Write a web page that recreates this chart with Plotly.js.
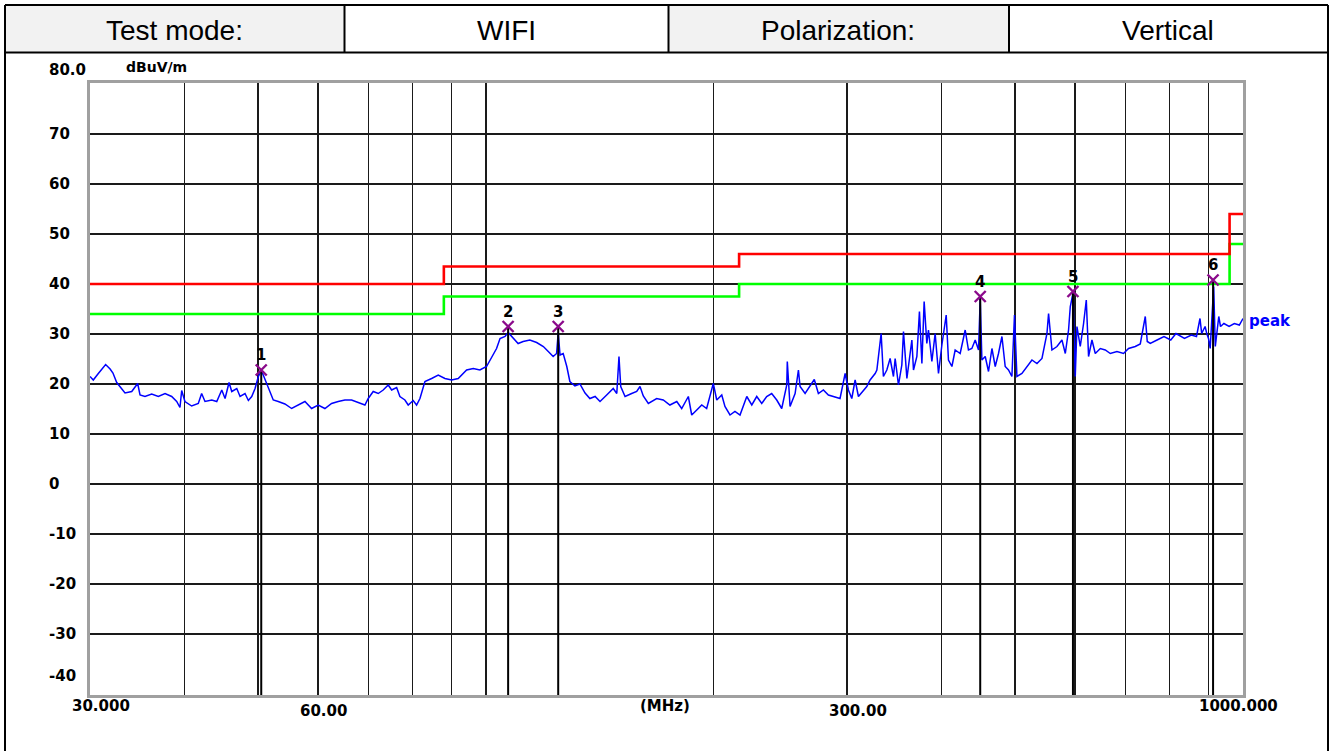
<!DOCTYPE html>
<html>
<head>
<meta charset="utf-8">
<script src="https://cdn.plot.ly/plotly-3.0.1.min.js"></script>
<style>
  html, body { margin: 0; padding: 0; background: #fff; }
  #chart { width: 1333px; height: 751px; }
</style>
</head>
<body>
<div id="chart"></div>
<script>
// ---------------- DATA ----------------
const headerLabels = ['Test mode:', 'WIFI', 'Polarization:', 'Vertical'];

const freqMHz = [
  30.0, 30.30, 30.77, 31.46, 31.89, 32.17, 32.54, 33.04, 33.37, 34.06,
  34.68, 34.93, 35.46, 36.19, 36.93, 37.69, 38.46, 39.05, 39.44, 39.65,
  40.04, 40.87, 41.70, 42.13, 42.56, 43.45, 44.11, 44.79, 45.24, 45.79,
  46.17, 46.88, 47.35, 48.07, 48.56, 49.06, 49.56, 50.06, 50.5, 50.81,
  51.34, 51.85, 52.38, 53.18, 54.27, 55.39, 56.51, 57.68, 58.86, 60.05,
  61.29, 62.55, 63.82, 65.13, 66.47, 67.82, 69.22, 69.92, 70.99, 72.08,
  73.18, 74.31, 75.08, 76.23, 76.99, 78.17, 78.96, 80.17, 81.0, 81.83,
  83.08, 84.79, 86.51, 88.29, 90.11, 91.93, 94.31, 96.22, 98.2, 100.2,
  101.8, 103.3, 104.4, 106.0, 107.0, 108.7, 110.3, 112.0, 114.3, 116.7,
  119.1, 120.9, 122.7, 124.0, 124.6, 125.3, 126.5, 127.9, 129.1, 131.1,
  133.1, 135.2, 137.2, 139.4, 141.5, 144.4, 147.3, 148.9, 149.9, 150.7,
  152.7, 155.8, 158.2, 159.8, 161.4, 163.9, 168.1, 171.5, 175.0, 178.7,
  181.4, 185.1, 187.0, 189.9, 192.8, 195.7, 198.7, 199.7, 201.8, 204.9,
  206.9, 210.1, 213.3, 216.6, 221.1, 224.5, 227.9, 231.4, 234.9, 238.5,
  242.2, 245.9, 249.7, 250.1, 252.2, 256.1, 258.7, 260.0, 264.0, 268.0,
  271.5, 274.9, 279.1, 283.4, 287.7, 293.6, 298.2, 301.2, 304.3, 307.4,
  310.5, 315.2, 318.5, 321.7, 326.7, 328.4, 330.7, 332.7, 335.0, 338.5,
  341.9, 345.4, 347.2, 350.7, 354.3, 356.1, 359.8, 363.4, 365.3, 367.1,
  370.9, 373.8, 376.6, 379.2, 382.3, 384.2, 388.2, 392.1, 396.1, 400.2,
  405.5, 408.3, 412.6, 416.7, 423.1, 429.6, 433.9, 438.4, 442.9, 447.4,
  449.7, 452.0, 456.6, 461.2, 466.0, 470.7, 475.4, 480.4, 485.2, 490.1,
  495.2, 499.1, 502.8, 510.5, 518.3, 526.3, 534.4, 542.6, 550.9, 553.6,
  559.3, 567.9, 576.6, 582.5, 588.3, 591.4, 596.2, 600.4, 603.5, 609.6,
  615.8, 620.9, 625.2, 631.7, 638.1, 647.9, 657.8, 667.9, 681.6, 695.4,
  706.1, 720.6, 731.7, 742.9, 747.4, 754.3, 770.0, 786.4, 802.8, 815.6,
  837.0, 854.5, 868.1, 877.4, 881.9, 891.1, 895.7, 900.4, 905.0, 909.7,
  914.7, 919.2, 929.0, 933.9, 943.6, 958.6, 974.0, 988.9, 1000
];

const peakLevel = [
  21.5, 20.8, 22.1, 23.9, 23.0, 22.2, 20.3, 19.1, 18.2, 18.5,
  20.1, 17.8, 17.5, 18.0, 17.5, 18.1, 17.5, 16.5, 15.3, 18.7,
  16.5, 15.6, 16.1, 18.1, 16.5, 16.8, 16.5, 18.8, 17.1, 20.3,
  18.5, 19.1, 17.5, 18.1, 16.7, 17.5, 19.1, 21.5, 22.6, 21.8,
  20.1, 18.8, 16.8, 16.5, 16.0, 15.1, 15.8, 16.5, 15.1, 15.8,
  15.1, 16.1, 16.5, 16.8, 16.8, 16.3, 15.8, 17.1, 18.5, 18.1,
  18.8, 19.8, 18.8, 19.3, 17.5, 16.8, 15.8, 16.7, 15.8, 17.1,
  20.5, 21.1, 21.8, 21.1, 20.8, 21.1, 22.8, 23.1, 22.8, 23.5,
  25.5, 27.1, 29.1, 29.5, 30.3, 29.1, 28.1, 28.5, 28.8, 28.3,
  27.5, 26.5, 25.5, 26.1, 30.3, 25.8, 26.1, 23.5, 20.5, 19.6,
  20.0, 18.2, 17.1, 17.5, 16.5, 17.8, 19.1, 18.1, 25.5, 19.5,
  17.5, 18.1, 18.5, 19.5, 17.6, 16.1, 17.1, 16.8, 15.8, 16.5,
  15.1, 17.5, 13.8, 14.8, 15.8, 15.1, 18.8, 20.1, 16.8, 17.8,
  15.5, 13.8, 14.5, 13.8, 17.5, 15.8, 17.5, 16.1, 17.5, 18.1,
  16.8, 15.1, 19.8, 24.5, 15.5, 18.1, 22.8, 19.5, 18.1, 19.5,
  20.9, 18.1, 18.8, 17.8, 17.5, 17.1, 22.1, 18.8, 17.1, 20.8,
  17.5, 18.8, 19.5, 20.8, 22.1, 22.8, 27.1, 30.1, 21.5, 22.8,
  25.1, 21.5, 25.1, 19.8, 23.8, 30.5, 21.1, 26.5, 28.8, 22.8,
  25.5, 34.5, 24.1, 36.5, 28.1, 30.8, 24.5, 30.1, 22.1, 27.8,
  33.8, 24.8, 23.5, 26.8, 26.1, 30.8, 26.8, 27.1, 28.8, 26.8,
  37.0, 24.8, 25.5, 22.5, 27.1, 23.5, 26.1, 29.5, 23.5, 22.8,
  21.5, 33.8, 21.5, 22.1, 23.5, 24.8, 24.1, 25.1, 30.1, 34.1,
  26.8, 27.5, 28.8, 26.1, 30.8, 35.5, 38.1, 21.5, 31.5, 27.5,
  32.1, 36.8, 25.5, 28.8, 26.1, 27.1, 26.8, 26.1, 26.5, 26.1,
  27.1, 27.5, 28.0, 33.5, 28.5, 28.1, 28.8, 29.5, 28.8, 30.1,
  29.1, 29.8, 29.5, 33.1, 30.1, 31.5, 30.1, 29.1, 27.1, 33.5,
  39.5, 27.5, 33.5, 31.5, 32.1, 31.5, 32.1, 31.8, 33.1
];

const limitFreq  = [30, 88, 88, 216, 216, 960, 960, 1000];
const limitLevel = [40, 40, 43.5, 43.5, 46, 46, 54, 54];
const marginLevel = [34, 34, 37.5, 37.5, 40, 40, 48, 48];

const markerFreq  = [50.5, 107.0, 124.6, 449.7, 596.2, 913.0];
const markerLevel = [22.8, 31.5, 31.5, 37.5, 38.5, 40.8];
const markerLabel = ['1', '2', '3', '4', '5', '6'];

const xGridFreq = [40, 50, 60, 70, 80, 90, 100, 200, 300, 400, 500, 600, 700, 800, 900];
const yGridVals = [70, 60, 50, 40, 30, 20, 10, 0, -10, -20, -30];
const yLabelVals = [80, 70, 60, 50, 40, 30, 20, 10, 0, -10, -20, -30, -40];
const yLabelText = ['80.0', '70', '60', '50', '40', '30', '20', '10', '0', '-10', '-20', '-30', '-40'];
const xLabelVals = [30, 60, 300, 1000];
const xLabelText = ['30.000', '60.00', '300.00', '1000.000'];
const yRange = [-42.2, 80.2];

// ---------------- LAYOUT HELPERS (pixel -> paper) ----------------
const W = 1333, H = 751, ML = 90, MR = 90, MT = 83, MB = 56;
const PW = W - ML - MR, PH = H - MT - MB;
const PX = p => (p - ML) / PW;
const PY = p => (H - MB - p) / PH;
const FONT = 'Liberation Sans, Arial, sans-serif';
const AXFONT = 'DejaVu Sans, Verdana, sans-serif';

// marker drop lines
const dropX = [], dropY = [];
markerFreq.forEach((f, i) => { dropX.push(f, f, null); dropY.push(markerLevel[i], yRange[0], null); });

const traces = [
  { x: limitFreq, y: marginLevel, type: 'scatter', mode: 'lines',
    line: { color: '#00ff00', width: 2.6 }, hoverinfo: 'skip' },
  { x: limitFreq, y: limitLevel, type: 'scatter', mode: 'lines',
    line: { color: '#ff0000', width: 2.6 }, hoverinfo: 'skip' },
  { x: freqMHz, y: peakLevel, type: 'scatter', mode: 'lines',
    line: { color: '#0000ff', width: 1.5 }, hoverinfo: 'skip' },
  { x: dropX, y: dropY, type: 'scatter', mode: 'lines',
    line: { color: '#000000', width: 2 }, hoverinfo: 'skip' },
  { x: markerFreq, y: markerLevel, type: 'scatter', mode: 'markers',
    marker: { symbol: 'x-thin-open', size: 11, color: '#8b0a8b', line: { color: '#8b0a8b', width: 2.4 } },
    hoverinfo: 'skip' }
];

const annotations = [];
// header texts
const headerCenters = [174, 506, 838, 1168];
headerLabels.forEach((t, i) => annotations.push({
  xref: 'paper', yref: 'paper', x: PX(headerCenters[i]), y: PY(30),
  xanchor: 'center', yanchor: 'middle', text: t, showarrow: false,
  font: { family: FONT, size: 28, color: '#000' }
}));
// y labels
yLabelVals.forEach((v, i) => {
  let ys = 0;
  if (v === 80) ys = 14;
  if (v === -40) ys = 8;
  annotations.push({
    xref: 'paper', yref: 'y', x: PX(47), y: v, yshift: ys,
    xanchor: 'left', yanchor: 'middle', text: '<b>' + yLabelText[i] + '</b>', showarrow: false,
    font: { family: AXFONT, size: 15, color: '#000' }
  });
});
// unit label
annotations.push({ xref: 'paper', yref: 'paper', x: PX(156), y: PY(67), xanchor: 'center', yanchor: 'middle',
  text: '<b>dBuV/m</b>', showarrow: false, font: { family: AXFONT, size: 14, color: '#000' } });
// x labels
const xShift = [11, 6, 11, -5];
const xLabelY = [706, 711, 711, 706];
xLabelVals.forEach((f, i) => annotations.push({
  xref: 'x', yref: 'paper', x: Math.log10(f), xshift: xShift[i], y: PY(xLabelY[i]),
  xanchor: 'center', yanchor: 'middle', text: '<b>' + xLabelText[i] + '</b>', showarrow: false,
  font: { family: AXFONT, size: 15, color: '#000' }
}));
annotations.push({ xref: 'paper', yref: 'paper', x: PX(665), y: PY(706), xanchor: 'center', yanchor: 'middle',
  text: '<b>(MHz)</b>', showarrow: false, font: { family: AXFONT, size: 15, color: '#000' } });
// marker numbers
markerFreq.forEach((f, i) => annotations.push({
  xref: 'x', yref: 'y', x: Math.log10(f), y: markerLevel[i], yshift: 15,
  xanchor: 'center', yanchor: 'middle', text: '<b>' + markerLabel[i] + '</b>', showarrow: false,
  font: { family: AXFONT, size: 15, color: '#000' }
}));
// trace name
annotations.push({ xref: 'paper', yref: 'y', x: PX(1247), y: peakLevel[peakLevel.length - 1], yshift: -2,
  xanchor: 'left', yanchor: 'middle', text: '<b>peak</b>', showarrow: false,
  font: { family: AXFONT, size: 15, color: '#0000ff' } });

const shapes = [
  // header gray cells
  { type: 'rect', xref: 'paper', yref: 'paper', x0: PX(5), x1: PX(344), y0: PY(52), y1: PY(5),
    fillcolor: '#f2f2f2', line: { width: 0 }, layer: 'below' },
  { type: 'rect', xref: 'paper', yref: 'paper', x0: PX(668), x1: PX(1009), y0: PY(52), y1: PY(5),
    fillcolor: '#f2f2f2', line: { width: 0 }, layer: 'below' },
  // frame lines
  { type: 'line', xref: 'paper', yref: 'paper', x0: PX(5), x1: PX(1328), y0: PY(5), y1: PY(5), line: { color: '#000', width: 2 } },
  { type: 'line', xref: 'paper', yref: 'paper', x0: PX(5), x1: PX(1328), y0: PY(52.5), y1: PY(52.5), line: { color: '#000', width: 2 } },
  { type: 'line', xref: 'paper', yref: 'paper', x0: PX(5), x1: PX(5), y0: PY(5), y1: PY(751), line: { color: '#000', width: 2 } },
  { type: 'line', xref: 'paper', yref: 'paper', x0: PX(1328), x1: PX(1328), y0: PY(5), y1: PY(751), line: { color: '#000', width: 2 } },
  { type: 'line', xref: 'paper', yref: 'paper', x0: PX(344.5), x1: PX(344.5), y0: PY(5), y1: PY(52.5), line: { color: '#000', width: 2 } },
  { type: 'line', xref: 'paper', yref: 'paper', x0: PX(668.5), x1: PX(668.5), y0: PY(5), y1: PY(52.5), line: { color: '#000', width: 2 } },
  { type: 'line', xref: 'paper', yref: 'paper', x0: PX(1009), x1: PX(1009), y0: PY(5), y1: PY(52.5), line: { color: '#000', width: 2 } }
];

const layout = {
  width: W, height: H,
  margin: { l: ML, r: MR, t: MT, b: MB, pad: 0 },
  paper_bgcolor: '#ffffff', plot_bgcolor: '#ffffff',
  showlegend: false,
  xaxis: {
    type: 'log', range: [Math.log10(30), Math.log10(1000)],
    tickvals: xGridFreq, showticklabels: false, ticks: '',
    showgrid: true, gridcolor: '#1a1a1a', gridwidth: 1.4,
    showline: true, linecolor: '#a0a0a0', linewidth: 3, mirror: true,
    zeroline: false, fixedrange: true
  },
  yaxis: {
    range: yRange, tickvals: yGridVals, showticklabels: false, ticks: '',
    showgrid: true, gridcolor: '#1a1a1a', gridwidth: 1.4,
    showline: true, linecolor: '#a0a0a0', linewidth: 3, mirror: true,
    zeroline: false, fixedrange: true
  },
  annotations: annotations,
  shapes: shapes
};

Plotly.newPlot('chart', traces, layout, { displayModeBar: false, staticPlot: true });
</script>
</body>
</html>
